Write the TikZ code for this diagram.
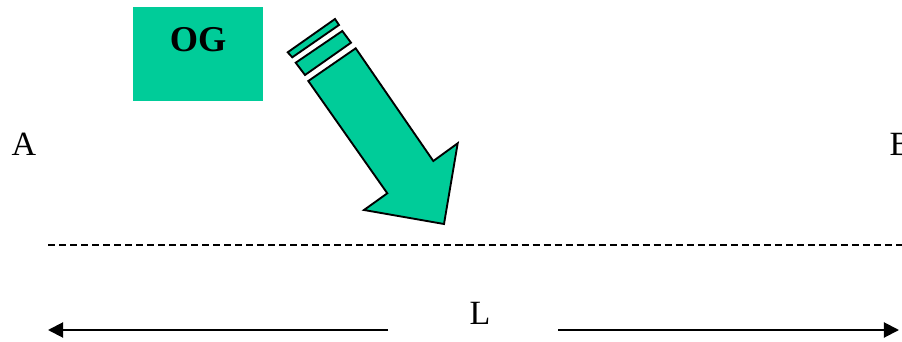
\documentclass[tikz,border=0pt]{standalone}
\usepackage{fontspec}
\setmainfont{Liberation Serif}
\usepackage{tikz}
\usetikzlibrary{arrows.meta, positioning}
\definecolor{oggreen}{RGB}{0,204,153}

\begin{document}
\begin{tikzpicture}[
    x=0.03cm, y=-0.03cm,
    srcbox/.style  ={rectangle, fill=oggreen, minimum width=3.9cm, minimum height=2.82cm, inner sep=0pt},
    pointlbl/.style={font=\fontsize{29}{32}\selectfont, inner sep=0pt},
    blockarrow/.style={fill=oggreen, draw=black, line width=1.6pt, line join=miter},
    baseline/.style={dashed, dash pattern=on 6pt off 3.4pt, line width=1.7pt},
    dimarrow/.style={-{Triangle[length=13pt, width=13pt]}, line width=1.7pt}
]
\useasboundingbox (0,0) rectangle (902,342);
% --- source box ---
\node[srcbox] (og) at (198,54) {};
\node[font=\fontsize{31}{34}\selectfont\bfseries, inner sep=0pt] (oglbl) at (198,40) {OG};
% --- end points ---
\node[pointlbl] (A) at (24,144) {A};
\node[pointlbl] (B) at (901,144) {B};
% --- incoming block arrow with stripes ---
\draw[blockarrow] (287.7,52.3) -- (335,19) -- (339,25) -- (292.3,57.3) -- cycle;
\draw[blockarrow] (295.7,62.7) -- (342.3,31) -- (351,42.7) -- (305,75) -- cycle;
\draw[blockarrow] (308.3,81) -- (355.7,48.3) -- (433.3,161) -- (457.7,143.3)
    -- (444,224) -- (364,210) -- (387.3,193.3) -- cycle;
% --- reference line ---
\draw[baseline] (48,245) -- (902,245);
% --- length L ---
\node[pointlbl] (L) at (480,313) {L};
\coordinate (lstart) at (388,330);
\coordinate (lend)   at (48,330);
\coordinate (rstart) at (558,330);
\coordinate (rend)   at (899,330);
\draw[dimarrow] (lstart) -- (lend);
\draw[dimarrow] (rstart) -- (rend);
\end{tikzpicture}
\end{document}
